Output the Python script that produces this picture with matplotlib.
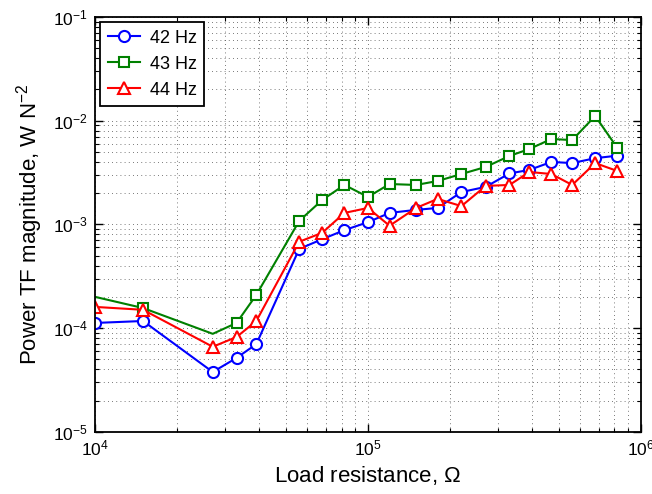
import matplotlib
matplotlib.use("Agg")
import matplotlib.pyplot as plt
import numpy as np

plt.rcParams['font.family'] = ['Liberation Sans', 'DejaVu Sans']
plt.rcParams['mathtext.fontset'] = 'custom'
plt.rcParams['mathtext.rm'] = 'Liberation Sans'
plt.rcParams['mathtext.default'] = 'regular'

# load resistances (ohm)
resistance = [1e4, 1.5e4, 2.7e4, 3.3e4, 3.9e4, 5.6e4, 6.8e4, 8.2e4, 1e5, 1.2e5,
              1.5e5, 1.8e5, 2.2e5, 2.7e5, 3.3e5, 3.9e5, 4.7e5, 5.6e5, 6.8e5, 8.2e5]

p42 = [1.12e-4, 1.17e-4, 3.77e-5, 5.15e-5, 7.0e-5, 5.8e-4, 7.2e-4, 8.8e-4, 1.05e-3, 1.29e-3,
       1.38e-3, 1.44e-3, 2.05e-3, 2.3e-3, 3.1e-3, 3.35e-3, 4.0e-3, 3.9e-3, 4.35e-3, 4.6e-3]
p43 = [2.0e-4, 1.56e-4, 8.8e-5, 1.12e-4, 2.09e-4, 1.08e-3, 1.72e-3, 2.4e-3, 1.84e-3, 2.45e-3,
       2.4e-3, 2.62e-3, 3.06e-3, 3.58e-3, 4.57e-3, 5.33e-3, 6.66e-3, 6.5e-3, 1.11e-2, 5.45e-3]
p44 = [1.6e-4, 1.5e-4, 6.6e-5, 8.2e-5, 1.17e-4, 6.8e-4, 8.3e-4, 1.29e-3, 1.44e-3, 9.7e-4,
       1.44e-3, 1.76e-3, 1.5e-3, 2.35e-3, 2.4e-3, 3.2e-3, 3.06e-3, 2.4e-3, 3.9e-3, 3.27e-3]
# the 43 Hz curve has no marker at 10k and 27k in the original
marks43 = [i for i in range(len(resistance)) if i not in (0, 2)]

fig = plt.figure(figsize=(6.52, 4.94), dpi=100)
ax = fig.add_axes([0.1457, 0.126, 0.8373, 0.8396])

ax.loglog(resistance, p42, '-o', color=(0, 0, 1), lw=1.5, ms=8, mew=1.5,
          mfc='white', label='42 Hz')
ax.loglog(resistance, p43, '-s', color=(0, 0.5, 0), lw=1.5, ms=6.5, mew=1.5,
          mfc='white', markevery=marks43, label='43 Hz')
ax.loglog(resistance, p44, '-^', color=(1, 0, 0), lw=1.5, ms=8.5, mew=1.5,
          mfc='white', label='44 Hz')

ax.set_xlim(1e4, 1e6)
ax.set_ylim(1e-5, 1e-1)
ax.grid(True, which='both', linestyle=(0, (1, 4)), color='0.3', linewidth=0.6)
ax.tick_params(which='both', direction='in', top=True, right=True, labelsize=12.5)
ax.tick_params(which='major', length=6, width=1, pad=5)
ax.tick_params(which='minor', length=3, width=0.8)
for s in ax.spines.values():
    s.set_linewidth(1.3)

ax.set_xlabel('Load resistance, $\\Omega$', fontsize=16, labelpad=4)
ax.set_ylabel('Power TF magnitude, W N$^{-2}$', fontsize=16, labelpad=6)

leg = ax.legend(loc='upper left', fontsize=13, fancybox=False, framealpha=1,
                edgecolor='black', handlelength=1.8, handletextpad=0.55,
                borderpad=0.4, borderaxespad=0.3)
leg.get_frame().set_linewidth(1.3)

fig.savefig('out.png', dpi=100)
